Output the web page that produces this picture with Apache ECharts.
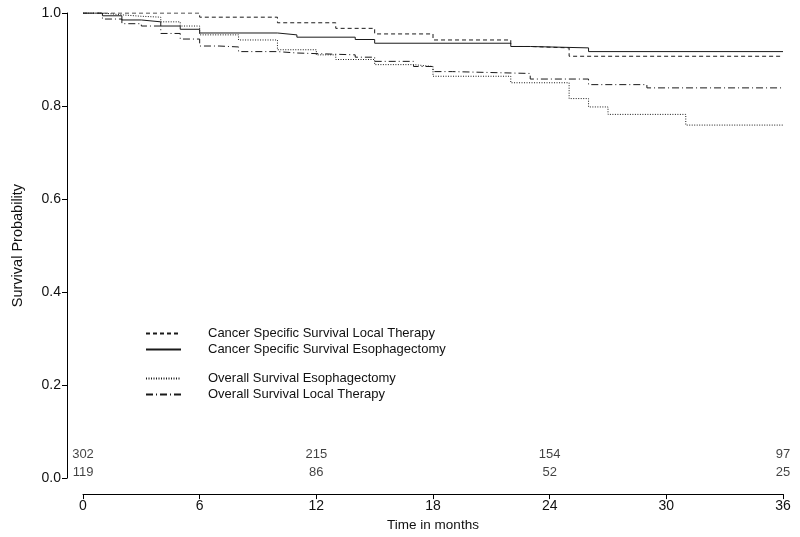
<!DOCTYPE html>
<html>
<head>
<meta charset="utf-8">
<script src="https://cdn.jsdelivr.net/npm/echarts@6/dist/echarts.min.js"></script>
<style>html,body{margin:0;padding:0;background:#fff}#c{width:800px;height:537px}</style>
</head>
<body>
<div id="c"></div>
<script>
// ---- data ----
const xTicks = [0, 6, 12, 18, 24, 30, 36];

const csLocalT = [0, 6, 10, 13, 15, 18, 22, 23, 25, 36];
const csLocalS = [1.0, 0.991, 0.979, 0.967, 0.955, 0.942, 0.928, 0.925, 0.907, 0.907];

const csEsoT = [0, 1, 2, 3, 4, 5, 6, 10, 11, 14, 15, 22, 23, 26, 36];
const csEsoS = [1.0, 0.994, 0.985, 0.981, 0.972, 0.965, 0.957, 0.953, 0.948, 0.943, 0.935, 0.928, 0.925, 0.917, 0.917];

const osEsoT = [0, 1, 2, 3, 4, 5, 6, 8, 10, 12, 13, 15, 17, 18, 22, 25, 26, 27, 31, 36];
const osEsoS = [1.0, 0.996, 0.993, 0.991, 0.981, 0.972, 0.953, 0.942, 0.921, 0.910, 0.900, 0.889, 0.885, 0.864, 0.850, 0.816, 0.798, 0.782, 0.759, 0.759];

const osLocalT = [0, 1, 2, 3, 4, 5, 6, 7, 8, 10, 11, 14, 15, 17, 18, 19, 23, 26, 29, 36];
const osLocalS = [1.0, 0.987, 0.977, 0.972, 0.956, 0.944, 0.929, 0.927, 0.917, 0.914, 0.910, 0.905, 0.896, 0.885, 0.874, 0.870, 0.858, 0.846, 0.839, 0.839];

const riskTimes = [0, 12, 24, 36];
const atRiskTop = [302, 215, 154, 97];
const atRiskBottom = [119, 86, 52, 25];

const names = [
  'Cancer Specific Survival Local Therapy',
  'Cancer Specific Survival Esophagectomy',
  'Overall Survival Esophagectomy',
  'Overall Survival Local Therapy'
];

// ---- build ----
const zip = (t, s) => t.map((v, i) => [v, s[i]]);
const FONT = 'Liberation Sans, Arial, Helvetica, sans-serif';
const ink = '#111';

function km(name, t, s, type) {
  return {
    name, type: 'line', step: 'end', data: zip(t, s),
    symbol: 'none', showSymbol: false, silent: true,
    lineStyle: { color: '#1a1a1a', width: 1, type },
    itemStyle: { color: '#1a1a1a' },
    animation: false
  };
}
function riskRow(counts, yRow) {
  return {
    type: 'scatter', silent: true, symbolSize: 0, animation: false, clip: false,
    data: riskTimes.map((t, i) => [t, yRow, counts[i]]),
    label: { show: true, position: 'inside', color: ink, fontFamily: FONT, fontSize: 13,
             formatter: p => String(p.value[2]) }
  };
}

const legendBase = {
  orient: 'vertical', left: 140, itemWidth: 35, itemHeight: 14, itemGap: 3,
  itemStyle: { opacity: 0 },
  textStyle: { color: ink, fontFamily: FONT, fontSize: 13, padding: [0, 0, 0, 22] },
  selectedMode: false
};

const chart = echarts.init(document.getElementById('c'), null, { renderer: 'canvas' });
chart.setOption({
  animation: false,
  backgroundColor: '#fff',
  grid: { left: 83, right: 17, top: 13, bottom: 56 },
  legend: [
    Object.assign({}, legendBase, { top: 322, data: [names[0], names[1]] }),
    Object.assign({}, legendBase, { top: 367, data: [names[2], names[3]] })
  ],
  xAxis: {
    type: 'value', min: 0, max: 36, interval: 6, offset: 16,
    name: 'Time in months', nameLocation: 'middle', nameGap: 19,
    nameTextStyle: { color: ink, fontFamily: FONT, fontSize: 13.5 },
    axisLine: { show: true, onZero: false, lineStyle: { color: '#000', width: 1 } },
    axisTick: { show: true, length: 5, lineStyle: { color: '#000' } },
    axisLabel: { color: ink, fontFamily: FONT, fontSize: 14, margin: 5,
                 customValues: xTicks, formatter: v => String(v) },
    splitLine: { show: false }
  },
  yAxis: {
    type: 'value', min: 0, max: 1, interval: 0.2, offset: 16,
    name: 'Survival Probability', nameLocation: 'middle', nameGap: 42, nameRotate: 90,
    nameTextStyle: { color: ink, fontFamily: FONT, fontSize: 14.5 },
    axisLine: { show: true, onZero: false, lineStyle: { color: '#000', width: 1 } },
    axisTick: { show: true, length: 5, lineStyle: { color: '#000' } },
    axisLabel: { color: ink, fontFamily: FONT, fontSize: 14, margin: 6,
                 formatter: v => v.toFixed(1) },
    splitLine: { show: false }
  },
  series: [
    km(names[0], csLocalT, csLocalS, [4, 3]),
    km(names[1], csEsoT, csEsoS, 'solid'),
    km(names[2], osEsoT, osEsoS, [1, 1.5]),
    km(names[3], osLocalT, osLocalS, [7, 3, 1, 3]),
    riskRow(atRiskTop, 0.051),
    riskRow(atRiskBottom, 0.013)
  ]
});
</script>
</body>
</html>
